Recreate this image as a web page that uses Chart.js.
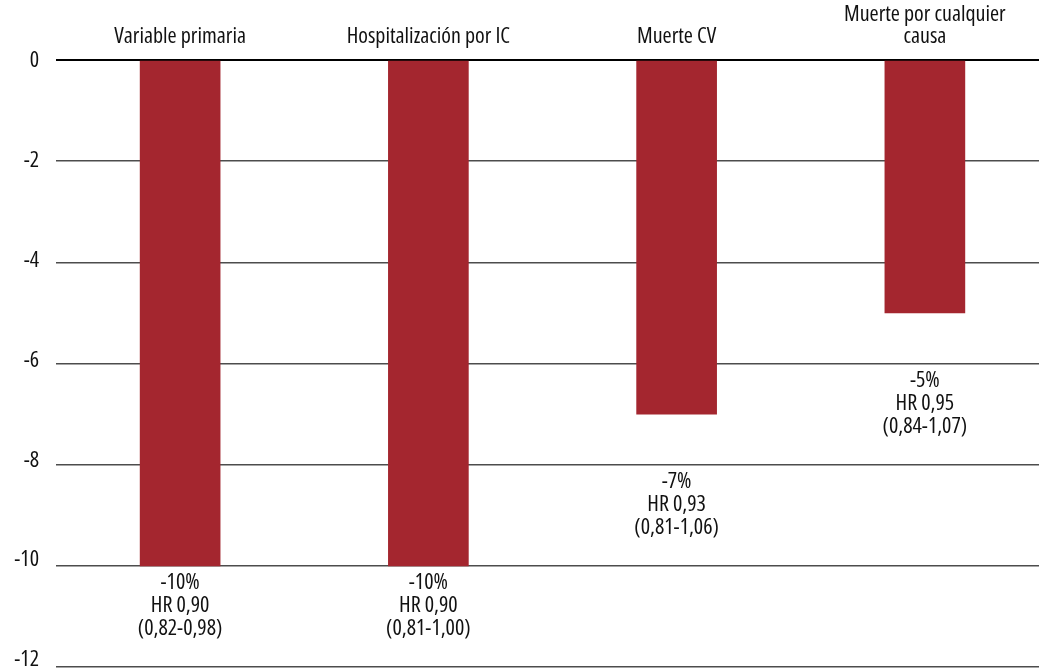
<!DOCTYPE html>
<html>
<head>
<meta charset="utf-8">
<script src="https://cdn.jsdelivr.net/npm/chart.js@4.4.1/dist/chart.umd.min.js"></script>
<style>
  html, body { margin: 0; padding: 0; background: #fff; overflow: hidden; }
  #wrap { width: 1050px; height: 669px; }
</style>
</head>
<body>
<div id="wrap"><canvas id="c" width="1050" height="669"></canvas></div>
<script>
// Outcome categories (multi-line labels shown above the plot)
const categories = [
  ['Variable primaria'],
  ['Hospitalización por IC'],
  ['Muerte CV'],
  ['Muerte por cualquier', 'causa']
];
// Relative risk reduction, %
const reduction = [-10, -10, -7, -5];
// Hazard ratios and 95% confidence intervals
const hazardRatio = ['0,90', '0,90', '0,93', '0,95'];
const confInterval = ['0,82-0,98', '0,81-1,00', '0,81-1,06', '0,84-1,07'];
// Y axis tick values
const yTicks = [0, -2, -4, -6, -8, -10, -12];

const SIZE = 22;
const TEXT = '#111';
const BAR = '#A4262F';

// Pick the narrowest-looking sans available: a condensed face close to
// Helvetica Condensed proportions ("Variable primaria" ≈ 133px at 21px).
function pickFont() {
  const probe = document.createElement('canvas').getContext('2d');
  const sample = 'Variable primaria';
  const target = 133;
  const candidates = [
    { family: '"Liberation Sans Narrow"', weight: 'normal' },
    { family: '"Noto Sans"', weight: 'condensed' },
    { family: '"Noto Sans"', weight: 'semi-condensed' },
    { family: '"Noto Sans Condensed"', weight: 'normal' },
    { family: '"Open Sans"', weight: 'condensed' },
    { family: '"DejaVu Sans Condensed"', weight: 'normal' }
  ];
  let best = candidates[candidates.length - 1], bestErr = Infinity;
  candidates.forEach(c => {
    probe.font = c.weight + ' 21px ' + c.family + ', "DejaVu Sans"';
    const w = probe.measureText(sample).width;
    const err = Math.abs(w - target);
    if (err < bestErr) { bestErr = err; best = c; }
  });
  return best;
}
const face = pickFont();
const WEIGHT = face.weight === 'normal' ? 'normal' : '500 ' + face.weight;
const FAMILY = face.family + ', "DejaVu Sans Condensed", sans-serif';
const fontOpt = (extra) => Object.assign({ family: FAMILY, size: SIZE, weight: WEIGHT }, extra || {});

// Writes "-x% / HR / (IC)" under each bar, just below the first gridline at or beneath the bar end
const barNotes = {
  id: 'barNotes',
  afterDatasetsDraw(chart) {
    const ctx = chart.ctx;
    const y = chart.scales.y;
    const step = Math.abs(yTicks[1] - yTicks[0]);
    const meta = chart.getDatasetMeta(0);
    ctx.save();
    ctx.font = WEIGHT + ' ' + SIZE + 'px ' + FAMILY;
    ctx.fillStyle = TEXT;
    ctx.textAlign = 'center';
    ctx.textBaseline = 'middle';
    meta.data.forEach((bar, i) => {
      const v = reduction[i];
      const level = Math.floor(v / step) * step;
      const top = y.getPixelForValue(level) + 17;
      const lines = [v + '%', 'HR ' + hazardRatio[i], '(' + confInterval[i] + ')'];
      lines.forEach((t, k) => ctx.fillText(t, bar.x, top + k * 23));
    });
    ctx.restore();
  }
};

const noEdgePadding = s => {
  s.paddingTop = 0; s.paddingBottom = 0; s.paddingLeft = 0; s.paddingRight = 0;
};

new Chart(document.getElementById('c'), {
  type: 'bar',
  data: {
    labels: categories,
    datasets: [{
      data: reduction,
      backgroundColor: BAR,
      borderWidth: 0,
      barThickness: 80,
      xAxisID: 'x',
      yAxisID: 'y'
    }]
  },
  options: {
    responsive: false,
    animation: false,
    devicePixelRatio: 1,
    layout: { padding: { left: 0, right: 1, top: 0, bottom: 2 } },
    plugins: { legend: { display: false }, tooltip: { enabled: false } },
    scales: {
      x: {
        position: 'top',
        grid: { display: false, drawTicks: false },
        border: { display: false },
        ticks: {
          padding: 12,
          color: TEXT,
          maxRotation: 0,
          autoSkip: false,
          font: fontOpt({ lineHeight: 1.0 })
        },
        afterFit: s => { noEdgePadding(s); s.height = 60; }
      },
      y: {
        position: 'left',
        min: -12,
        max: 0,
        weight: 0,
        ticks: { display: false, stepSize: 2 },
        grid: {
          drawTicks: false,
          color: c => (c.tick && c.tick.value === 0 ? '#000' : '#4d4d4d'),
          lineWidth: c => (c.tick && c.tick.value === 0 ? 2 : 1.6)
        },
        border: { display: false },
        afterFit: s => { noEdgePadding(s); s.width = 0; }
      },
      yl: {
        position: 'left',
        weight: 1,
        min: -12.14,
        max: 0.014,
        grid: { display: false, drawTicks: false },
        border: { display: false },
        afterBuildTicks: s => { s.ticks = yTicks.map(v => ({ value: v })); },
        ticks: {
          padding: 17,
          color: TEXT,
          font: fontOpt(),
          callback: v => String(v)
        },
        afterFit: s => { noEdgePadding(s); s.width = 56; }
      }
    }
  },
  plugins: [barNotes]
});
</script>
</body>
</html>
